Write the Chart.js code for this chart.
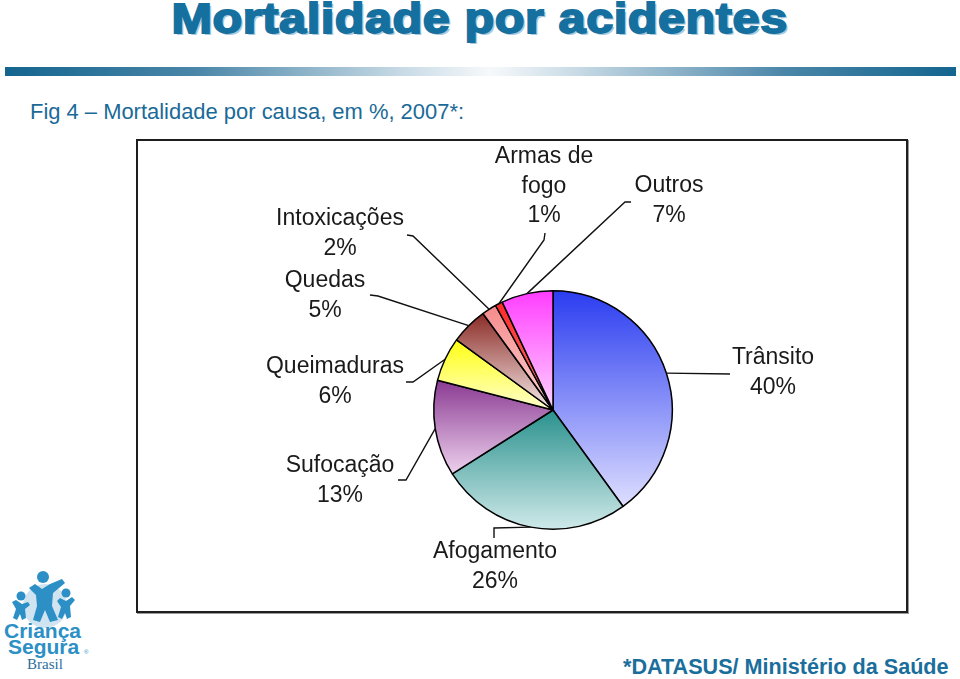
<!DOCTYPE html>
<html>
<head>
<meta charset="utf-8">
<script src="https://cdn.jsdelivr.net/npm/chart.js@4.4.1/dist/chart.umd.min.js"></script>
<style>
  body { margin: 0; width: 960px; height: 679px; background: #fff; position: relative; overflow: hidden; font-family: 'Liberation Sans', Arial, sans-serif; }
  #title { position: absolute; left: 0; width: 960px; top: -6px; text-align: center; font-size: 43px; font-weight: bold; color: #15709f; -webkit-text-stroke: 1.8px #15709f; letter-spacing: 0.5px; text-shadow: 2px 2px 0 #a9c9dd; }
  #title span { display: inline-block; transform: scaleX(1.13); }
  #bar { position: absolute; left: 5px; top: 67px; width: 951px; height: 9px; background: linear-gradient(to right, #14658f 0%, #4a86a8 20%, #c9dbe6 42%, #f6f9fb 51%, #c9dbe6 60%, #4a86a8 82%, #14658f 100%); }
  #sub { position: absolute; left: 30px; top: 99px; font-size: 22px; color: #1a6a98; transform: scaleX(0.997); transform-origin: left; white-space: nowrap; }
  #box { position: absolute; left: 136px; top: 139px; width: 768px; height: 470px; border: 2px solid #1e1e1e; box-shadow: 1px 1px 0 #999; background: #fff; }
  #box canvas { position: absolute; left: 0; top: 0; }
  #foot { position: absolute; left: 623px; top: 654px; font-size: 21.6px; font-weight: bold; color: #1a6e9c; white-space: nowrap; }
  #logo { position: absolute; left: 0; top: 562px; }
</style>
</head>
<body>
<div id="title"><span>Mortalidade por acidentes</span></div>
<div id="bar"></div>
<div id="sub">Fig 4 – Mortalidade por causa, em %, 2007*:</div>
<div id="box"><canvas id="pie" width="768" height="470"></canvas></div>
<svg id="logo" width="100" height="117" viewBox="0 0 100 117">
  <circle cx="45" cy="44" r="22" fill="#cfe3f1"/>
  <g fill="#2c8fc6">
    <circle cx="43" cy="15" r="6"/>
    <path d="M29 26 L35 22 L42 27 L50 22 L62 17 L65 21 L53 31 L52 44 L58 58 L50 60 L45 48 L40 60 L33 58 L37 44 L36 33 Z"/>
    <circle cx="21" cy="34" r="4.5"/>
    <path d="M12 40 L16 38 L22 42 L28 40 L30 43 L25 47 L26 56 L22 58 L20 52 L17 58 L13 56 L16 47 Z"/>
    <circle cx="66" cy="31" r="4.5"/>
    <path d="M57 39 L60 36 L66 39 L72 35 L75 38 L70 44 L71 55 L67 57 L65 51 L62 57 L58 55 L61 45 Z"/>
  </g>
  <text x="4" y="76" font-family="Liberation Sans, Arial" font-weight="bold" font-size="21" fill="#2c8fc6">Criança</text>
  <text x="8" y="92" font-family="Liberation Sans, Arial" font-weight="bold" font-size="21" fill="#2c8fc6">Segura</text>
  <text x="84" y="92" font-family="Liberation Sans, Arial" font-size="6" fill="#2c8fc6">®</text>
  <text x="27" y="107" font-family="Liberation Serif, serif" font-size="15" fill="#2c6e9e">Brasil</text>
</svg>
<div id="foot">*DATASUS/ Ministério da Saúde</div>
<script>
// dados: mortalidade por causa, em %, 2007
const categories = ['Trânsito', 'Afogamento', 'Sufocação', 'Queimaduras', 'Quedas', 'Intoxicações', ['Armas de', 'fogo'], 'Outros'];
const values = [40, 26, 13, 6, 5, 2, 1, 7];
// gradient top / bottom colours per slice
const topColors = ['#2a3cf0', '#29918d', '#8a3a92', '#ffff10', '#8a2a24', '#f58a8a', '#ff2a2a', '#ff3cff'];
const bottomColors = ['#dfdfff', '#d0eaea', '#eed2ee', '#ffffd0', '#f6eaea', '#ffd2d2', '#ff7070', '#ffd4ff'];
// label layout, relative to pie centre: [text x, first line y], elbow, end of leader
const labelText = [[220, -52], [-58, 142], [-213, 56], [-218, -43], [-228, -129], [-213, -191], [-9, -253], [116, -224]];
const labelElbow = [[177, -36], [-59, 118], [-147, 70], [-140, -28], [-175, -114], [-140, -174], [-9, -170], [72, -208]];
const labelEnd = [[177, -36], [-59, 128], [-155, 70], [-147, -28], [-183, -115], [-146, -175], [-8, -177], [78, -208]];

function sliceGradient(c) {
    const i = c.dataIndex;
    const area = c.chart.chartArea;
    if (!area) return topColors[i];
    const cx = (area.left + area.right) / 2;
    const cy = (area.top + area.bottom) / 2;
    const r = Math.min(area.right - area.left, area.bottom - area.top) / 2;
    const total = values.reduce((a, b) => a + b, 0);
    const before = values.slice(0, i).reduce((a, b) => a + b, 0);
    const a0 = -Math.PI / 2 + before / total * 2 * Math.PI;
    const a1 = a0 + values[i] / total * 2 * Math.PI;
    let ys = [cy, cy + r * Math.sin(a0), cy + r * Math.sin(a1)];
    if (a0 <= Math.PI / 2 && a1 >= Math.PI / 2) ys.push(cy + r);
    if (a0 <= -Math.PI / 2 + 1e-6 || a1 >= 1.5 * Math.PI - 1e-6) ys.push(cy - r);
    const y0 = Math.min(...ys), y1 = Math.max(...ys);
    const g = c.chart.ctx.createLinearGradient(0, y0, 0, y1 + 0.01);
    g.addColorStop(0, topColors[i]);
    g.addColorStop(1, bottomColors[i]);
    return g;
}

const pieLabels = {
    id: 'pieLabels',
    afterDatasetsDraw(chart) {
        const ctx = chart.ctx;
        const meta = chart.getDatasetMeta(0);
        ctx.save();
        ctx.strokeStyle = '#111';
        ctx.lineWidth = 1.4;
        ctx.fillStyle = '#1a1a1a';
        ctx.font = '23px "Liberation Sans", Arial, sans-serif';
        ctx.textAlign = 'center';
        ctx.textBaseline = 'middle';
        meta.data.forEach((arc, i) => {
            const mid = (arc.startAngle + arc.endAngle) / 2;
            const r = arc.outerRadius;
            ctx.beginPath();
            ctx.moveTo(arc.x + r * Math.cos(mid), arc.y + r * Math.sin(mid));
            ctx.lineTo(arc.x + labelElbow[i][0], arc.y + labelElbow[i][1]);
            ctx.lineTo(arc.x + labelEnd[i][0], arc.y + labelEnd[i][1]);
            ctx.stroke();
            let lines = [].concat(categories[i]);
            lines.push(values[i] + '%');
            lines.forEach((t, k) => {
                ctx.fillText(t, arc.x + labelText[i][0], arc.y + labelText[i][1] + k * 29.5);
            });
        });
        ctx.restore();
    }
};

new Chart(document.getElementById('pie'), {
    type: 'pie',
    data: {
        labels: categories,
        datasets: [{
            data: values,
            backgroundColor: sliceGradient,
            borderColor: '#000',
            borderWidth: 1.5,
        }],
    },
    options: {
        responsive: false,
        animation: false,
        layout: { padding: { left: 295, right: 233, top: 149, bottom: 81 } },
        plugins: {
            legend: { display: false },
            tooltip: { enabled: false },
        },
    },
    plugins: [pieLabels],
});
</script>
</body>
</html>
